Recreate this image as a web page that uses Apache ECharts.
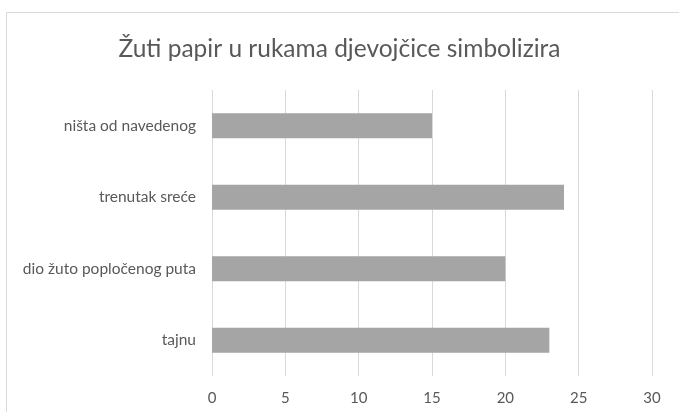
<!DOCTYPE html>
<html>
<head>
<meta charset="utf-8">
<script src="https://cdn.jsdelivr.net/npm/echarts@6/dist/echarts.min.js"></script>
<style>
  html, body { margin: 0; padding: 0; background: #fff; }
  #chart { width: 679px; height: 412px; }
</style>
</head>
<body>
<div id="chart"></div>
<script>
// categories listed bottom to top, like the picture reads from the axis
const categories = ['tajnu', 'dio žuto popločenog puta', 'trenutak sreće', 'ništa od navedenog'];
const values = [23, 20, 24, 15];
const titleText = 'Žuti papir u rukama djevojčice simbolizira';

const chart = echarts.init(document.getElementById('chart'));
const fontFamily = 'Lato, "Open Sans", sans-serif';

chart.setOption({
    animation: false,
    backgroundColor: '#fff',
    graphic: [{
        type: 'rect',
        shape: { x: 6.5, y: 12.5, width: 720, height: 440 },
        style: { fill: 'none', stroke: '#d9d9d9', lineWidth: 1 },
        silent: true
    }],
    title: {
        text: titleText,
        left: 'center',
        top: 32,
        textStyle: {
            fontFamily: fontFamily,
            fontSize: 24.5,
            fontWeight: 'normal',
            color: '#595959'
        }
    },
    grid: {
        left: 212,
        right: 27,
        top: 90,
        bottom: 36,
        containLabel: false
    },
    xAxis: {
        type: 'value',
        min: 0,
        max: 30,
        interval: 5,
        axisLine: { show: false },
        axisTick: { show: false },
        splitLine: { lineStyle: { color: '#d9d9d9', width: 1 } },
        axisLabel: {
            margin: 15,
            fontFamily: fontFamily,
            fontSize: 15,
            color: '#595959'
        }
    },
    yAxis: {
        type: 'category',
        data: categories,
        axisLine: { show: false },
        axisTick: { show: false },
        axisLabel: {
            margin: 16,
            fontFamily: fontFamily,
            fontSize: 15.5,
            color: '#595959'
        }
    },
    series: [{
        type: 'bar',
        data: values,
        barWidth: 25,
        itemStyle: { color: '#a5a5a5' }
    }]
});
</script>
</body>
</html>
